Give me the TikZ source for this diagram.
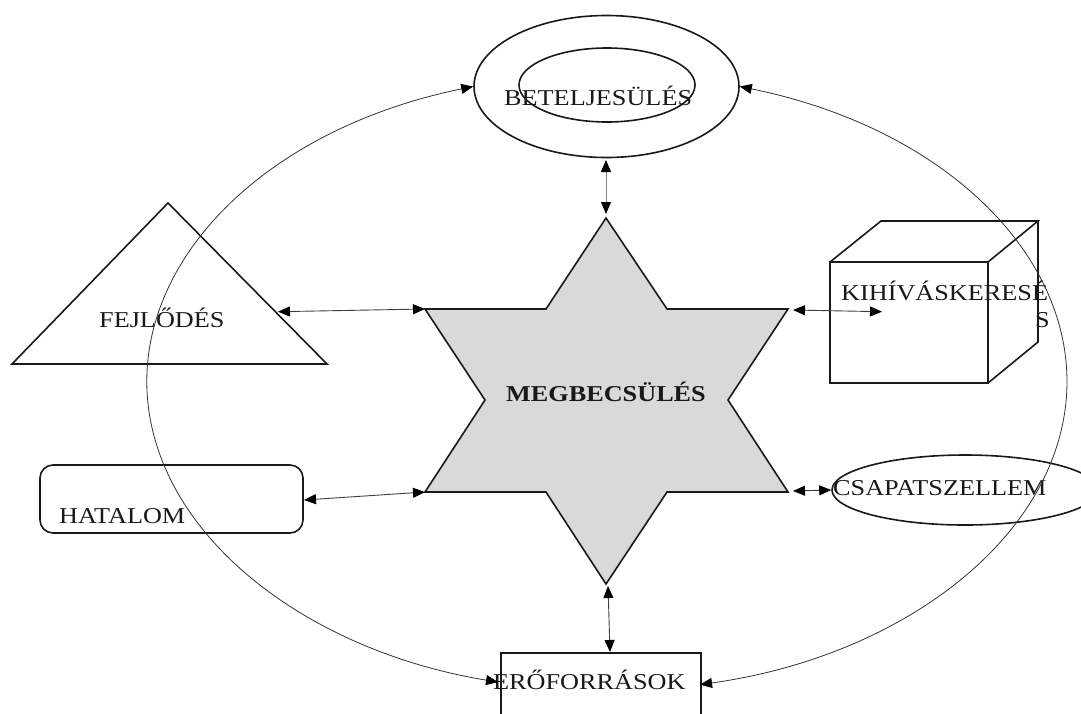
\documentclass[tikz,border=0pt]{standalone}
\usepackage{fontspec}
\setmainfont{Liberation Serif}
\usetikzlibrary{shapes.geometric,arrows.meta}
\newcommand\wtx[1]{\scalebox{1.155}[1]{#1}}
\begin{document}
\begin{tikzpicture}[x=1pt,y=-1pt,
  shp/.style={draw=black!90,line width=1.6pt},
  lbl/.style={anchor=base west,inner sep=0pt,text=black!90,font=\fontsize{22.7}{27}\selectfont},
  conn/.style={draw=black!75,line width=0.9pt,{Triangle[length=12pt,width=10pt,color=black]}-{Triangle[length=12pt,width=10pt,color=black]}},
  bigarc/.style={draw=black!80,line width=0.8pt,{Triangle[length=12pt,width=10pt,color=black]}-{Triangle[length=12pt,width=10pt,color=black]}}]
\useasboundingbox (0,0) rectangle (1081,713);
\clip (0,0) rectangle (1081,713);
% outer and inner ellipse
\node[shp,ellipse,minimum width=265pt,minimum height=142pt,inner sep=0pt] (betout) at (606.5,86.5) {};
\node[shp,ellipse,minimum width=176pt,minimum height=74pt,inner sep=0pt] (betin) at (607,85) {};
\node[lbl] (bett) at (504,105) {\wtx{BETELJESÜLÉS}};
% star
\coordinate (sT) at (606,218);
\coordinate (sUL) at (425,309);
\coordinate (sLL) at (425,492);
\coordinate (sB) at (606,584);
\coordinate (sLR) at (788,492);
\coordinate (sUR) at (788,309);
\filldraw[shp,fill=black!15] (sT) -- (667,309) -- (sUR) -- (728,400) -- (sLR) -- (667,492) -- (sB) -- (546,492) -- (sLL) -- (485,400) -- (sUL) -- (546,309) -- cycle;
\node[lbl,font=\fontsize{22.7}{27}\selectfont\bfseries] (megt) at (506,401) {\wtx{MEGBECSÜLÉS}};
% triangle
\coordinate (tA) at (168,203);
\coordinate (tL) at (12,364);
\coordinate (tR) at (327,364);
\draw[shp,line join=miter] (tA) -- (tL) -- (tR) -- cycle;
\node[lbl] (fejt) at (99,327) {\wtx{FEJLŐDÉS}};
% cube
\coordinate (c1) at (830,262);
\coordinate (c2) at (988,262);
\coordinate (c3) at (988,383);
\coordinate (c4) at (830,383);
\coordinate (c5) at (881,221);
\coordinate (c6) at (1038,221);
\coordinate (c7) at (1038,342);
\draw[shp] (c1) rectangle (c3);
\draw[shp] (c1) -- (c5) -- (c6) -- (c2);
\draw[shp] (c6) -- (c7) -- (c3);
\node[lbl] (kiht) at (841,300) {\wtx{KIHÍVÁSKERESÉ}};
\node[lbl] (kihs) at (1035,327) {\wtx{S}};
% hatalom
\draw[shp,rounded corners=13pt] (40,465) rectangle (303,533);
\coordinate (hatR) at (304,500);
\node[lbl] (hatt) at (59,523) {\wtx{HATALOM}};
% csapatszellem
\node[shp,ellipse,minimum width=266pt,minimum height=70pt,inner sep=0pt] (csap) at (965,490) {};
\node[lbl] (csapt) at (833,495) {\wtx{CSAPATSZELLEM}};
% eroforrasok
\draw[shp,line width=1.2pt] (501,730) |- (701,653) -- (701,730);
\coordinate (eroT) at (610,652);
\node[lbl] (erot) at (493,689) {\wtx{ERŐFORRÁSOK}};
% connectors
\coordinate (bA) at (606,160);
\coordinate (sA) at (606,214);
\draw[conn,draw=black!50] (bA) -- (sA);
\coordinate (triC) at (278,311.7);
\draw[conn] (triC) -- (sUL);
\draw[conn] (hatR) -- (sLL);
\coordinate (cubeC) at (882,311.7);
\draw[conn] (793,310) -- (cubeC);
\draw[conn] (793,491) -- (csap.west);
\coordinate (sBa) at (608,586);
\draw[conn] (sBa) -- (eroT);
% big arcs
\draw[bigarc] (betout.west) arc[start angle=253, end angle=103.8, x radius=461, y radius=309];
\draw[bigarc] (betout.east) arc[start angle=-73.1, end angle=78.2, x radius=461, y radius=309];
\end{tikzpicture}
\end{document}
